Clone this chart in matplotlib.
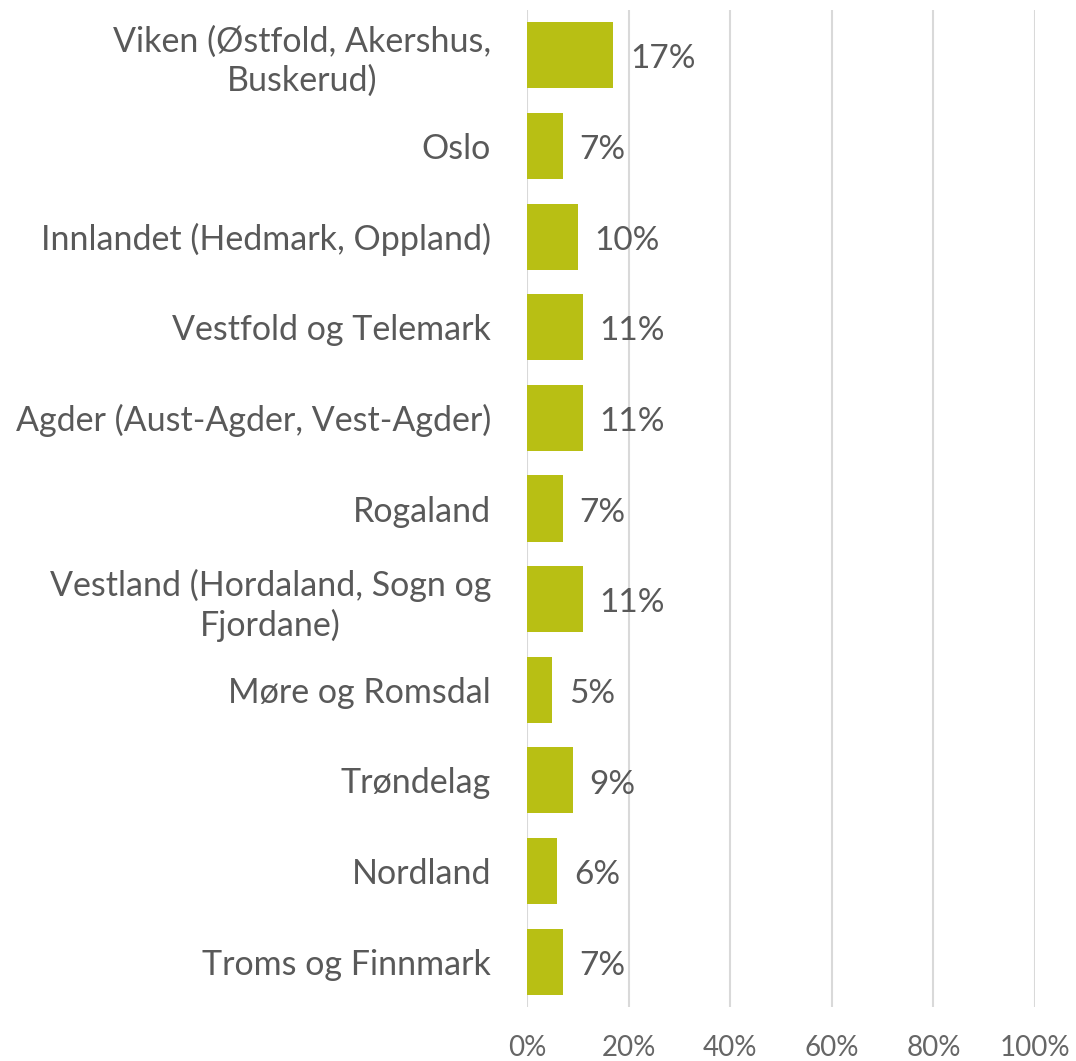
import matplotlib
matplotlib.use("Agg")
import matplotlib.pyplot as plt

regions = ["Viken (Østfold, Akershus,\nBuskerud)", "Oslo", "Innlandet (Hedmark, Oppland)",
           "Vestfold og Telemark", "Agder (Aust-Agder, Vest-Agder)", "Rogaland",
           "Vestland (Hordaland, Sogn og\nFjordane)", "Møre og Romsdal", "Trøndelag",
           "Nordland", "Troms og Finnmark"]
shares = [17, 7, 10, 11, 11, 7, 11, 5, 9, 6, 7]
xticks = [0, 20, 40, 60, 80, 100]

grey = '#595959'
plt.rcParams['font.family'] = ['Lato', 'DejaVu Sans']

fig = plt.figure(figsize=(10.76, 10.61), dpi=100)
ax = fig.add_axes([527 / 1076, 1 - 1007 / 1061, 508 / 1076, 997 / 1061])

pos = list(range(len(regions)))
ax.barh(pos, shares, height=0.73, color='#B8BF14', zorder=3)
# value labels just right of each bar
for p, v in zip(pos, shares):
    ax.annotate(f"{v}%", (v, p), xytext=(12, -3), textcoords='offset points',
                va='center', ha='left', fontsize=24, color=grey)

ax.set_xlim(0, 100)
ax.set_ylim(len(regions) - 0.5, -0.5)
ax.set_yticks(pos)
ax.set_yticklabels(regions, fontsize=24.5, color=grey, multialignment='center',
                   linespacing=1.25)
ax.set_xticks(xticks)
ax.set_xticklabels([f"{t}%" for t in xticks], fontsize=20, color='#666666')
ax.tick_params(axis='y', length=0, pad=26)
ax.tick_params(axis='x', length=0, pad=20)
ax.grid(axis='x', color='#D9D9D9', linewidth=1.5, zorder=0)
for s in ax.spines.values():
    s.set_visible(False)

fig.savefig("out.png", dpi=100)
